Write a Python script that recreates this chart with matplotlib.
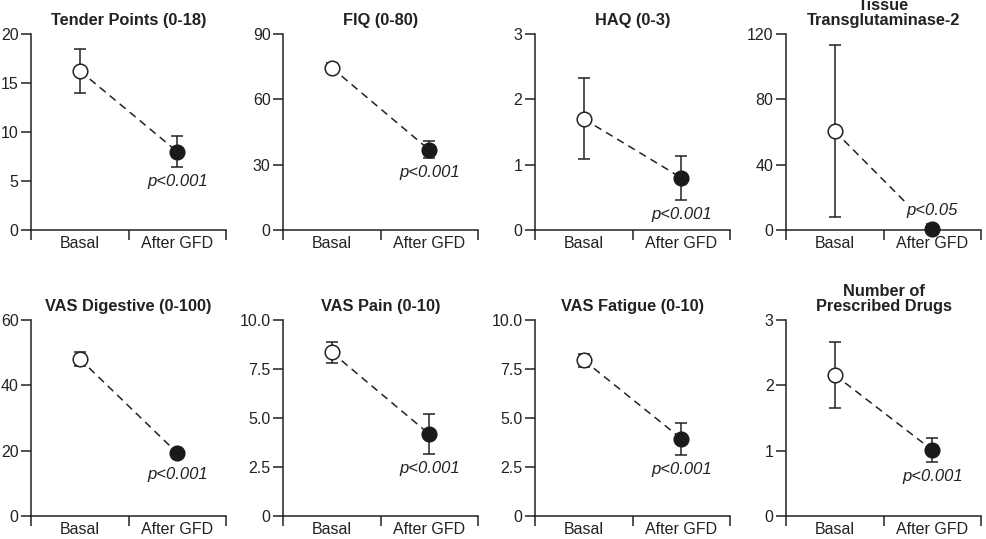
import matplotlib.pyplot as plt

plt.rcParams['font.family'] = ['Liberation Sans', 'DejaVu Sans']

# panel data: mean and error (half-length of bar) before and after GFD
titles = ["Tender Points (0-18)", "FIQ (0-80)", "HAQ (0-3)", "Tissue\nTransglutaminase-2",
          "VAS Digestive (0-100)", "VAS Pain (0-10)", "VAS Fatigue (0-10)",
          "Number of\nPrescribed Drugs"]
basal_mean = [16.25, 74.5, 1.70, 60.5, 48.1, 8.35, 7.95, 2.16]
basal_err = [2.25, 2.0, 0.62, 52.5, 2.2, 0.53, 0.34, 0.50]
after_mean = [8.0, 36.8, 0.80, 0.5, 19.3, 4.18, 3.95, 1.01]
after_err = [1.6, 3.9, 0.34, 0.0, 0.0, 1.0, 0.82, 0.18]
p_labels = ["p<0.001", "p<0.001", "p<0.001", "p<0.05",
            "p<0.001", "p<0.001", "p<0.001", "p<0.001"]
y_ticks = [[0, 5, 10, 15, 20], [0, 30, 60, 90], [0, 1, 2, 3], [0, 40, 80, 120],
           [0, 20, 40, 60], [0, 2.5, 5.0, 7.5, 10.0], [0, 2.5, 5.0, 7.5, 10.0], [0, 1, 2, 3]]
y_ticklabels = [["0", "5", "10", "15", "20"], ["0", "30", "60", "90"], ["0", "1", "2", "3"],
                ["0", "40", "80", "120"], ["0", "20", "40", "60"],
                ["0", "2.5", "5.0", "7.5", "10.0"], ["0", "2.5", "5.0", "7.5", "10.0"],
                ["0", "1", "2", "3"]]
groups = ["Basal", "After GFD"]

ink = '#222222'
W, H = 986, 539
lefts_px = [31, 283, 535, 786]
bottoms_px = [230, 516]

fig = plt.figure(figsize=(W / 100, H / 100), dpi=100)

for i in range(8):
    row, col = divmod(i, 4)
    ax = fig.add_axes([lefts_px[col] / W, 1 - bottoms_px[row] / H, 195 / W, 196 / H])
    x = [0.5, 1.5]
    ax.plot(x, [basal_mean[i], after_mean[i]], color=ink, lw=1.1,
            ls=(0, (5, 3.5)), zorder=1)
    ax.errorbar(x[0], basal_mean[i], yerr=basal_err[i], fmt='o', ms=10.5,
                mfc='white', mec=ink, mew=1.1, ecolor=ink, elinewidth=1.1,
                capsize=4.5, capthick=1.1, zorder=3, clip_on=False)
    ax.errorbar(x[1], after_mean[i], yerr=after_err[i], fmt='o', ms=10.5,
                mfc='#1a1a1a', mec='#1a1a1a', mew=1.1, ecolor=ink, elinewidth=1.1,
                capsize=4.5, capthick=1.1, zorder=3, clip_on=False)

    ymax = y_ticks[i][-1]
    ax.set_xlim(0, 2)
    ax.set_ylim(0, ymax)

    # p-value below the lower end of the after-GFD point (above it if it sits on the axis)
    marker_half = ymax * 7 / 196
    lower = min(after_mean[i] - after_err[i], after_mean[i] - marker_half)
    if lower > 0:
        ax.annotate(p_labels[i], (1.5, lower), xytext=(0, -10.5), textcoords='offset points',
                    ha='center', va='center', fontsize=12, style='italic', color=ink,
                    zorder=2, bbox=dict(fc='white', ec='none', pad=0.5))
    else:
        ax.annotate(p_labels[i], (1.5, after_mean[i] + marker_half), xytext=(0, 8.5),
                    textcoords='offset points', ha='center', va='center', fontsize=12,
                    style='italic', color=ink, zorder=2,
                    bbox=dict(fc='white', ec='none', pad=1.5))

    ax.set_title(titles[i], fontsize=11.8, fontweight='bold', color=ink,
                 va='bottom', pad=4.5, linespacing=1.0)

    ax.set_yticks(y_ticks[i])
    ax.set_yticklabels(y_ticklabels[i])
    ax.set_xticks([0, 1, 2])
    ax.set_xticklabels([])
    ax.set_xticks(x, minor=True)
    ax.set_xticklabels(groups, minor=True)
    ax.tick_params(axis='both', which='major', direction='out', length=7, width=1.1,
                   color=ink, labelcolor=ink, labelsize=11.5, pad=2)
    ax.tick_params(axis='x', which='minor', length=0, pad=4.5, labelsize=11.5, labelcolor=ink)
    for s in ['top', 'right']:
        ax.spines[s].set_visible(False)
    for s in ['left', 'bottom']:
        ax.spines[s].set_color(ink)
        ax.spines[s].set_linewidth(1.1)

fig.savefig("out.png", dpi=100)
